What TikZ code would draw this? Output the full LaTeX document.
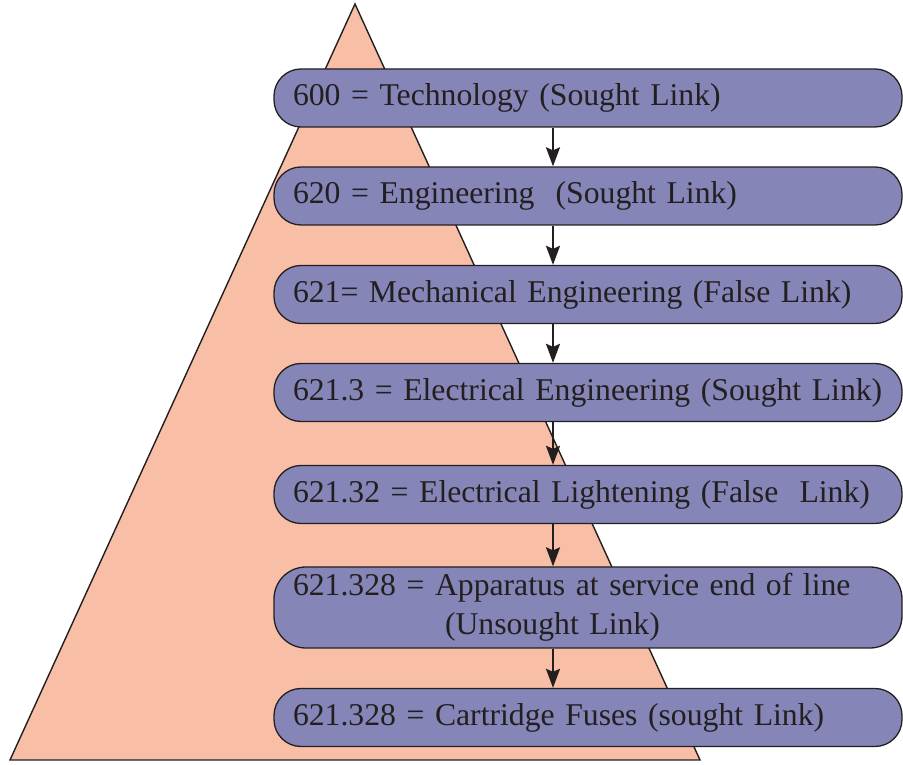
\documentclass[tikz,border=0pt]{standalone}
\usepackage{fontspec}
\setmainfont{Liberation Serif}
\usetikzlibrary{arrows.meta}
\definecolor{boxfill}{HTML}{8585B8}
\definecolor{trifill}{HTML}{F9BFA6}
\definecolor{ink}{HTML}{231F20}
\tikzset{
  linkbox/.style={draw=ink, line width=1.3pt, fill=boxfill, rounded corners=27pt,
    minimum width=628pt, minimum height=58pt, text width=590pt, align=left,
    inner xsep=19pt, inner ysep=0pt, text=ink, font=\fontsize{31.7}{39}\selectfont},
  linkarrow/.style={draw=ink, line width=2pt, -{Stealth[length=19pt,width=14pt,inset=3pt]}}
}
\begin{document}
\begin{tikzpicture}[x=1pt,y=1pt]
\useasboundingbox (0,0) rectangle (903,765);
\draw[draw=ink, line width=1.4pt, fill=trifill, line join=miter] (355,761) -- (700,5) -- (10,5) -- cycle;
\node[linkbox] (b1) at (588,667) {600 = Technology (Sought Link)};
\node[linkbox] (b2) at (588,569) {620 = Engineering\ \ (Sought Link)};
\node[linkbox] (b3) at (588,470.5) {621= Mechanical Engineering (False Link)};
\node[linkbox] (b4) at (588,372.5) {621.3 = Electrical Engineering (Sought Link)};
\node[linkbox] (b5) at (588,270.5) {621.32 = Electrical Lightening (False\ \ Link)};
\node[linkbox, minimum height=81pt, rounded corners=32pt] (b6) at (588,157.5) {621.328 = Apparatus at service end of line\\\hspace*{152pt}(Unsought Link)};
\node[linkbox] (b7) at (588,47.5) {621.328 = Cartridge Fuses (sought Link)};
\coordinate (ax) at (553,0);
\draw[linkarrow] (b1.south -| ax) -- (b2.north -| ax);
\draw[linkarrow] (b2.south -| ax) -- (b3.north -| ax);
\draw[linkarrow] (b3.south -| ax) -- (b4.north -| ax);
\draw[linkarrow] (b4.south -| ax) -- (b5.north -| ax);
\draw[linkarrow] (b5.south -| ax) -- (b6.north -| ax);
\draw[linkarrow] (b6.south -| ax) -- (b7.north -| ax);
\end{tikzpicture}
\end{document}
